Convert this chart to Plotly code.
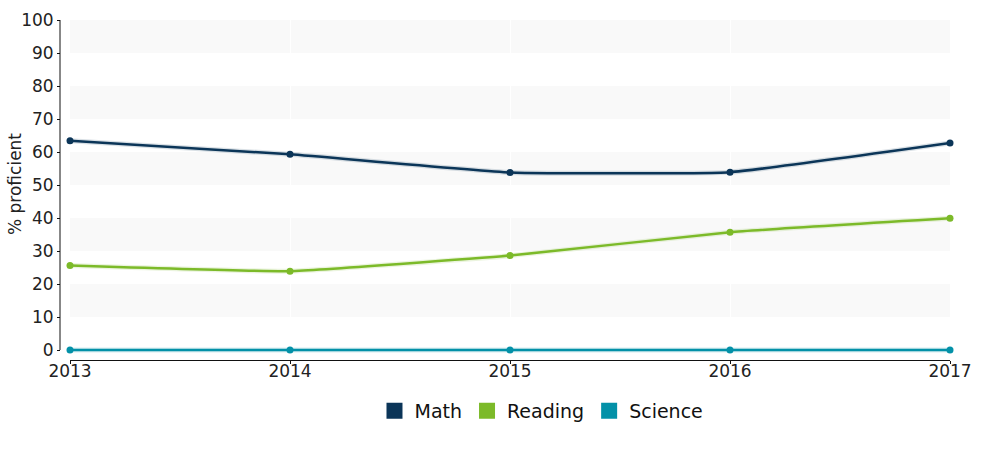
import plotly.graph_objects as go

years = [2013, 2014, 2015, 2016, 2017]
math = [63.4, 59.3, 53.8, 53.9, 62.7]
reading = [25.6, 23.9, 28.6, 35.7, 39.9]
science = [0, 0, 0, 0, 0]
band_ranges = [(10, 20), (30, 40), (50, 60), (70, 80), (90, 100)]

series = [("Math", math, "#0b3558"), ("Reading", reading, "#7cba29"), ("Science", science, "#0391a8")]

fig = go.Figure()
for name, vals, col in series:
    fig.add_trace(go.Scatter(x=years, y=vals, mode="lines", line=dict(color=col, width=5, shape="spline", smoothing=0.35),
                             opacity=0.15, showlegend=False, hoverinfo="skip", cliponaxis=False))
    fig.add_trace(go.Scatter(x=years, y=vals, mode="lines+markers", name=name,
                             line=dict(color=col, width=2.5, shape="spline", smoothing=0.35),
                             marker=dict(size=7, color=col), showlegend=False, cliponaxis=False))
for name, vals, col in series:
    fig.add_trace(go.Scatter(x=[None], y=[None], mode="markers", name=name,
                             marker=dict(symbol="square", size=20, color=col, line=dict(width=0))))

for y0, y1 in band_ranges:
    fig.add_shape(type="rect", xref="x", yref="y", x0=years[0], x1=years[-1], y0=y0, y1=y1,
                  fillcolor="#f9f9f9", line=dict(width=0), layer="below")
# y axis line (from 0 to 100 only)
fig.add_shape(type="line", xref="paper", yref="y", x0=0, x1=0, y0=0, y1=100,
              line=dict(color="#111", width=1), layer="above")

fig.add_annotation(text="% proficient", xref="paper", yref="paper", x=0, y=0.5176, xshift=-45,
                   textangle=-90, showarrow=False, font=dict(size=17, color="#222"),
                   xanchor="center", yanchor="middle")

fig.update_layout(
    width=1000, height=450,
    margin=dict(l=60, r=50, t=20, b=90),
    paper_bgcolor="white", plot_bgcolor="white",
    font=dict(family="DejaVu Sans, Verdana, sans-serif", size=17, color="#222"),
    legend=dict(orientation="h", x=0.541, xanchor="center", y=-0.15, yanchor="middle",
                font=dict(size=19, color="#111"), itemwidth=30, tracegroupgap=0),
    xaxis=dict(domain=[10 / 890, 1], range=[2013, 2017], anchor="y",
               tickvals=years, ticktext=[str(y) for y in years], ticks="outside", ticklen=3,
               tickcolor="#111", showline=True, linecolor="#111", linewidth=1, ticklabelstandoff=-7,
               showgrid=True, gridcolor="#ffffff", zeroline=False, fixedrange=True, automargin=False),
    yaxis=dict(domain=[0, 1], range=[-10 / 3.3, 100], anchor="free", position=0,
               tickvals=list(range(0, 101, 10)), ticks="outside", ticklen=3, tickcolor="#111",
               showline=False, showgrid=False, zeroline=False, automargin=False, fixedrange=True),
)

fig.write_html("out.html")
